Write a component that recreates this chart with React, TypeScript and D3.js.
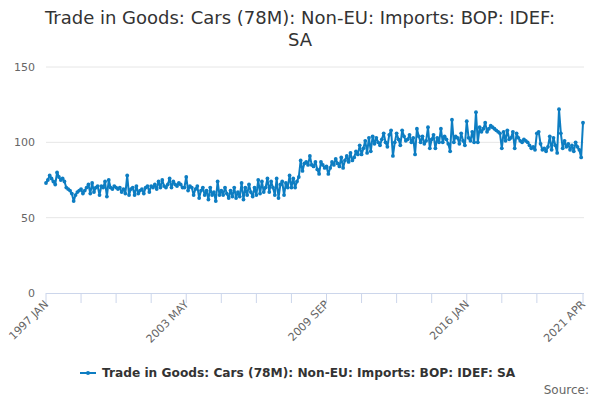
import React from "react";
import * as d3 from "d3";

const title = ["Trade in Goods: Cars (78M): Non-EU: Imports: BOP: IDEF:", "SA"];
const seriesName = "Trade in Goods: Cars (78M): Non-EU: Imports: BOP: IDEF: SA";
const monthNames = ["JAN", "FEB", "MAR", "APR", "MAY", "JUN", "JUL", "AUG", "SEP", "OCT", "NOV", "DEC"];
const startYear = 1997;

const values: number[] = [
  // 1997
  73, 75, 78, 76, 74, 72, 80, 77, 75, 76, 74, 70,
  // 1998
  69, 68, 66, 61, 65, 67, 68, 69, 66, 68, 70, 72,
  // 1999
  66, 73, 67, 70, 71, 65, 71, 70, 74, 64, 75, 70,
  // 2000
  69, 71, 70, 69, 70, 67, 69, 66, 78, 65, 69, 70,
  // 2001
  65, 71, 66, 68, 69, 66, 70, 71, 67, 71, 70, 72,
  // 2002
  69, 74, 70, 75, 71, 70, 72, 76, 70, 74, 72, 71,
  // 2003
  73, 72, 70, 70, 77, 68, 71, 70, 65, 69, 71, 63,
  // 2004
  68, 70, 65, 68, 62, 70, 65, 67, 61, 74, 65, 68,
  // 2005
  65, 70, 66, 63, 68, 64, 70, 63, 67, 64, 73, 62,
  // 2006
  70, 65, 72, 67, 64, 70, 65, 75, 66, 74, 67, 70,
  // 2007
  76, 67, 74, 70, 65, 76, 63, 72, 74, 65, 73, 70,
  // 2008
  78, 70, 76, 70, 74, 77, 88, 81, 86, 87, 85, 91,
  // 2009
  85, 84, 87, 82, 79, 87, 85, 83, 84, 79, 83, 87,
  // 2010
  85, 89, 86, 84, 90, 83, 88, 91, 87, 93, 88, 90,
  // 2011
  94, 92, 98, 92, 96, 101, 93, 103, 94, 104, 99, 103,
  // 2012
  100, 98, 102, 106, 100, 97, 105, 108, 91, 100, 106, 102,
  // 2013
  98, 108, 104, 101, 102, 105, 100, 103, 92, 109, 104, 100,
  // 2014
  104, 99, 101, 110, 96, 102, 105, 96, 103, 100, 109, 100,
  // 2015
  104, 102, 99, 94, 115, 100, 104, 103, 99, 106, 101, 98,
  // 2016
  114, 103, 101, 107, 100, 120, 100, 110, 107, 109, 113, 107,
  // 2017
  109, 111, 110, 109, 108, 107, 106, 96, 107, 101, 108, 102,
  // 2018
  103, 107, 96, 106, 103, 101, 100, 102, 101, 100, 98, 96,
  // 2019
  97, 95, 106, 107, 99, 95, 96, 94, 97, 104, 95, 103,
  // 2020
  98, 93, 122, 106, 96, 101, 97, 99, 95, 98, 94, 100,
  // 2021
  97, 95, 90, 113,
];

const categories: string[] = values.map((_, i) => `${startYear + Math.floor(i / 12)} ${monthNames[i % 12]}`);
const yTicks = [0, 50, 100, 150];
const tickStep = 19;
const labelIndices = [0, 76, 152, 228, values.length - 1];

export default function App() {
  const W = 600, H = 400;
  const left = 46, right = 583, top = 67, bottom = 293;
  const last = values.length - 1;
  const x = d3.scaleLinear().domain([0, last]).range([left, right]);
  const y = d3.scaleLinear().domain([0, 150]).range([bottom, top]);
  const line = d3.line<number>().x((_, i) => x(i)).y((d) => y(d));
  const tickIdx: number[] = d3.range(0, last, tickStep).filter((i) => last - i >= tickStep);
  tickIdx.push(last);
  const color = "#0d7dc2";
  const font = "'DejaVu Sans', sans-serif";

  return (
    <svg width={W} height={H} style={{ position: "fixed", left: 0, top: 0, background: "#fff", fontFamily: font }}>
      <rect width={W} height={H} fill="#fff" />
      {title.map((t, i) => (
        <text key={i} x={300} y={24 + i * 22} textAnchor="middle" fontSize={18} fill="#333333">{t}</text>
      ))}
      {yTicks.filter((t) => t > 0).map((t) => (
        <line key={t} x1={left} x2={right + 1} y1={y(t)} y2={y(t)} stroke="#e6e6e6" strokeWidth={1} />
      ))}
      {yTicks.map((t) => (
        <text key={t} x={left - 11} y={y(t) + 4} textAnchor="end" fontSize={11} fill="#666666">{t}</text>
      ))}
      <line x1={left} x2={right + 1} y1={bottom + 0.5} y2={bottom + 0.5} stroke="#ccd6eb" strokeWidth={1} />
      {tickIdx.map((i) => (
        <line key={i} x1={x(i)} x2={x(i)} y1={bottom} y2={bottom + 10} stroke="#ccd6eb" strokeWidth={1} />
      ))}
      {labelIndices.map((i) => (
        <text key={i} transform={`translate(${x(i) + 3},${bottom + 12}) rotate(-45)`} textAnchor="end" fontSize={11} fill="#666666">
          {categories[i]}
        </text>
      ))}
      <path d={line(values) ?? ""} fill="none" stroke={color} strokeWidth={2} strokeLinejoin="round" />
      {values.map((v, i) => (
        <circle key={i} cx={x(i)} cy={y(v)} r={1.9} fill={color} />
      ))}
      <g>
        <line x1={80} x2={96} y1={373} y2={373} stroke={color} strokeWidth={2} />
        <circle cx={88} cy={373} r={2} fill={color} />
        <text x={102} y={377} fontSize={12.2} fontWeight="bold" fill="#333333">{seriesName}</text>
      </g>
      <text x={589} y={394} textAnchor="end" fontSize={12} fill="#666666">Source:</text>
    </svg>
  );
}
